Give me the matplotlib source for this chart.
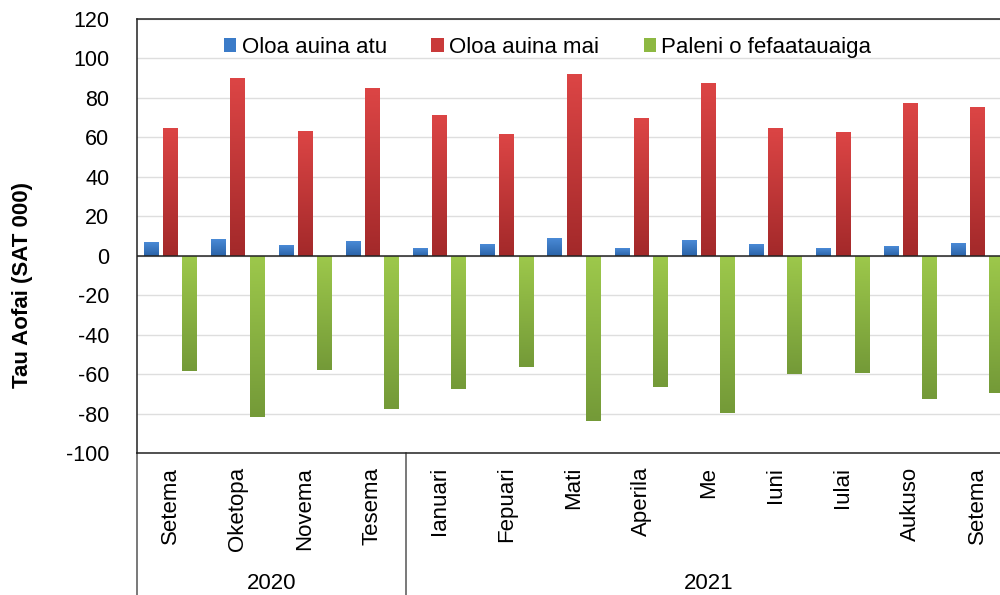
import matplotlib.pyplot as plt
import numpy as np
from matplotlib.colors import LinearSegmentedColormap
from matplotlib.patches import Patch

plt.rcParams['font.family'] = ['Liberation Sans', 'DejaVu Sans']
plt.rcParams['axes.unicode_minus'] = False

months = ['Setema', 'Oketopa', 'Novema', 'Tesema', 'Ianuari', 'Fepuari', 'Mati',
          'Aperila', 'Me', 'Iuni', 'Iulai', 'Aukuso', 'Setema']
years = ['2020', '2021']
year_counts = [4, 9]

exports = [6.7, 8.3, 5.2, 7.4, 3.9, 5.9, 8.8, 3.9, 7.9, 5.7, 3.9, 4.9, 6.4]
imports = [64.9, 90.2, 63.4, 84.8, 71.5, 61.5, 92.2, 69.9, 87.3, 64.9, 62.8, 77.4, 75.4]
balance = [-58.6, -81.9, -58.1, -77.5, -67.6, -56.3, -83.6, -66.4, -79.7, -60.0, -59.5, -72.5, -69.6]

names = ['Oloa auina atu', 'Oloa auina mai', 'Paleni o fefaatauaiga']
# (top colour, bottom colour) of each bar gradient
grads = [('#4a8ad6', '#2a63a8'), ('#dc4545', '#a3292a'), ('#9dc84b', '#749a38')]
solid = ['#3b7bc8', '#c93a3a', '#8db842']

fig = plt.figure(figsize=(10, 5.95), dpi=100)
ax = fig.add_axes([0.137, 0.2387, 0.874, 0.7294])

x = np.arange(len(months))
width = 0.22
offsets = [-0.285, 0.0, 0.285]

for vals, off, (c_top, c_bot) in zip([exports, imports, balance], offsets, grads):
    bars = ax.bar(x + off, vals, width, color='none', edgecolor='none', zorder=3)
    cmap = LinearSegmentedColormap.from_list('g', [c_bot, c_top])
    grad = np.linspace(0, 1, 100).reshape(-1, 1)
    for b in bars:
        x0, y0 = b.get_x(), b.get_y()
        w, h = b.get_width(), b.get_height()
        lo, hi = min(y0, y0 + h), max(y0, y0 + h)
        im = ax.imshow(grad, cmap=cmap, aspect='auto', origin='lower',
                       extent=(x0, x0 + w, lo, hi), zorder=3)
        im.set_clip_path(b)

ax.set_xlim(-0.5, len(months) - 0.5)
ax.set_ylim(-100, 120)
ax.set_yticks(range(-100, 121, 20))
ax.tick_params(axis='y', labelsize=15.5, length=0, pad=20)
ax.grid(axis='y', color='#dedede', linewidth=1, zorder=0)
ax.axhline(0, color='#222222', linewidth=1.1, zorder=4)
for s in ax.spines.values():
    s.set_color('#222222')
    s.set_linewidth(1.1)
ax.spines['right'].set_visible(False)

ax.set_xticks(x)
ax.set_xticklabels(months, rotation=90, fontsize=16, va='top')
ax.tick_params(axis='x', length=0, pad=10)

ax.set_ylabel('Tau Aofai (SAT 000)', fontsize=16, fontweight='bold')
ax.yaxis.set_label_coords(-0.119, 0.387)

# year groups below the month labels
start = -0.5
for yr, n in zip(years, year_counts):
    ax.plot([start, start], [0, -0.34], transform=ax.get_xaxis_transform(),
            color='#555555', linewidth=1.1, clip_on=False)
    ax.text(start + n / 2, -0.3, yr, transform=ax.get_xaxis_transform(),
            ha='center', va='center', fontsize=16)
    start += n

handles = [Patch(facecolor=c, edgecolor='none') for c in solid]
ax.legend(handles, names, loc='upper center', bbox_to_anchor=(0.47, 1.005), ncol=3,
          frameon=False, fontsize=16, handlelength=0.55, handleheight=0.55,
          handletextpad=0.25, columnspacing=2.0)

fig.savefig('out.png', dpi=100)
